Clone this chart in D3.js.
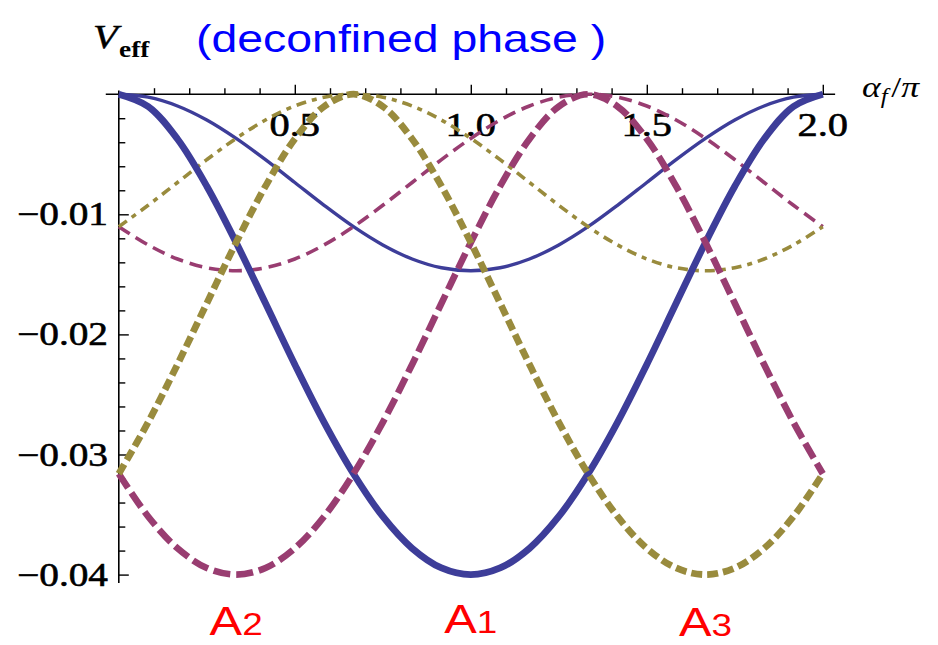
<!DOCTYPE html>
<html>
<head>
<meta charset="utf-8">
<script src="https://cdn.jsdelivr.net/npm/d3@7/dist/d3.min.js"></script>
<style>
  html, body { margin: 0; padding: 0; background: #fff; }
  svg { display: block; }
</style>
</head>
<body>
<svg id="chart" width="938" height="645"></svg>
<script>
// Sample points of α_f/π (step 1/12)
const alphaGrid = [0, 0.0833, 0.1667, 0.25, 0.3333, 0.4167, 0.5, 0.5833, 0.6667, 0.75, 0.8333, 0.9167,
  1, 1.0833, 1.1667, 1.25, 1.3333, 1.4167, 1.5, 1.5833, 1.6667, 1.75, 1.8333, 1.9167, 2];

// Thick curves (A1, A2, A3)
const thickA1 = [0, -0.00102, -0.00373, -0.00766, -0.01235, -0.01741, -0.0225, -0.02732, -0.0316, -0.03516,
  -0.03781, -0.03945, -0.04, -0.03945, -0.03781, -0.03516, -0.0316, -0.02732, -0.0225, -0.01741,
  -0.01235, -0.00766, -0.00373, -0.00102, 0];
const thickA2 = [-0.0316, -0.03516, -0.03781, -0.03945, -0.04, -0.03945, -0.03781, -0.03516, -0.0316,
  -0.02732, -0.0225, -0.01741, -0.01235, -0.00766, -0.00373, -0.00102, 0, -0.00102, -0.00373,
  -0.00766, -0.01235, -0.01741, -0.0225, -0.02732, -0.0316];
const thickA3 = [-0.0316, -0.02732, -0.0225, -0.01741, -0.01235, -0.00766, -0.00373, -0.00102, 0,
  -0.00102, -0.00373, -0.00766, -0.01235, -0.01741, -0.0225, -0.02732, -0.0316, -0.03516, -0.03781,
  -0.03945, -0.04, -0.03945, -0.03781, -0.03516, -0.0316];

// Thin curves
const thinA1 = [0, -0.00025, -0.00098, -0.00215, -0.00368, -0.00545, -0.00735, -0.00925, -0.01103,
  -0.01255, -0.01372, -0.01445, -0.0147, -0.01445, -0.01372, -0.01255, -0.01103, -0.00925, -0.00735,
  -0.00545, -0.00368, -0.00215, -0.00098, -0.00025, 0];
const thinA2 = [-0.01103, -0.01255, -0.01372, -0.01445, -0.0147, -0.01445, -0.01372, -0.01255, -0.01103,
  -0.00925, -0.00735, -0.00545, -0.00368, -0.00215, -0.00098, -0.00025, 0, -0.00025, -0.00098,
  -0.00215, -0.00368, -0.00545, -0.00735, -0.00925, -0.01103];
const thinA3 = [-0.01103, -0.00925, -0.00735, -0.00545, -0.00368, -0.00215, -0.00098, -0.00025, 0,
  -0.00025, -0.00098, -0.00215, -0.00368, -0.00545, -0.00735, -0.00925, -0.01103, -0.01255, -0.01372,
  -0.01445, -0.0147, -0.01445, -0.01372, -0.01255, -0.01103];

// Axis ticks and labels
const xMajorTicks = [0.5, 1.0, 1.5, 2.0];
const xTickLabels = ["0.5", "1.0", "1.5", "2.0"];
const xMinorTicks = [0.1, 0.2, 0.3, 0.4, 0.6, 0.7, 0.8, 0.9, 1.1, 1.2, 1.3, 1.4, 1.6, 1.7, 1.8, 1.9];
const yMajorTicks = [-0.01, -0.02, -0.03, -0.04];
const yTickLabels = ["\u22120.01", "\u22120.02", "\u22120.03", "\u22120.04"];
const yMinorTicks = [-0.002, -0.004, -0.006, -0.008, -0.012, -0.014, -0.016, -0.018,
  -0.022, -0.024, -0.026, -0.028, -0.032, -0.034, -0.036, -0.038];

// Curve-name labels placed at each thick curve's minimum
const curveNames = ["A", "A", "A"];
const curveSubs = ["2", "1", "3"];
const curveNameAt = [1 / 3, 1, 5 / 3];

const COLORS = { blue: "#3d3d99", pink: "#993d71", olive: "#998b3d" };
const TEXT_STRETCH = 1.19;

const svg = d3.select("#chart");
const x = d3.scaleLinear().domain([0, 2]).range([118.8, 822.8]);
const y = d3.scaleLinear().domain([0, -0.04]).range([94.2, 574.6]);

const serif = "'Liberation Serif', 'Times New Roman', serif";
const sans = "'Liberation Sans', Arial, Helvetica, sans-serif";

// Text helper with horizontal stretch about its anchor
function label(g, px, py, txt, opts) {
  const t = g.append("text")
    .attr("transform", `translate(${px},${py}) scale(${TEXT_STRETCH},1)`)
    .attr("font-family", opts.family || serif)
    .attr("font-size", opts.size)
    .attr("fill", opts.fill || "#000")
    .attr("text-anchor", opts.anchor || "start");
  if (opts.italic) t.attr("font-style", "italic");
  if (opts.bold) t.attr("font-weight", "bold");
  if (opts.heavy) t.attr("stroke", opts.fill || "#000").attr("stroke-width", opts.heavy);
  t.text(txt);
  return t;
}

// Tick labels (drawn beneath the curves)
const labelsG = svg.append("g");
xMajorTicks.forEach((v, i) => label(labelsG, x(v), 136, xTickLabels[i], { size: 34, anchor: "middle", heavy: 0.6 }));
yMajorTicks.forEach((v, i) => label(labelsG, 108, y(v) + 11, yTickLabels[i], { size: 33, anchor: "end", heavy: 0.6 }));

// Axes
const axesG = svg.append("g").attr("stroke", "#000");
axesG.append("line")
  .attr("x1", x(-0.037)).attr("x2", x(2.035))
  .attr("y1", y(0)).attr("y2", y(0)).attr("stroke-width", 1.6);
axesG.append("line")
  .attr("x1", x(0)).attr("x2", x(0))
  .attr("y1", y(0.0003)).attr("y2", y(-0.0407)).attr("stroke-width", 1.6);

function styleAxis(g) {
  g.select(".domain").remove();
  g.selectAll(".tick line").attr("stroke", "#000").attr("stroke-width", 1.4);
}
svg.append("g").attr("transform", `translate(0,${y(0)})`)
  .call(d3.axisTop(x).tickValues(xMinorTicks).tickSize(6).tickFormat(""))
  .call(styleAxis);
svg.append("g").attr("transform", `translate(0,${y(0)})`)
  .call(d3.axisTop(x).tickValues(xMajorTicks).tickSize(9.5).tickFormat(""))
  .call(styleAxis);
svg.append("g").attr("transform", `translate(${x(0)},0)`)
  .call(d3.axisRight(y).tickValues(yMinorTicks).tickSize(6.5).tickFormat(""))
  .call(styleAxis);
svg.append("g").attr("transform", `translate(${x(0)},0)`)
  .call(d3.axisRight(y).tickValues(yMajorTicks).tickSize(10).tickFormat(""))
  .call(styleAxis);

// Curves
const line = d3.line()
  .x(d => x(d[0]))
  .y(d => y(d[1]))
  .curve(d3.curveCatmullRom.alpha(0.5));

const series = [
  { values: thinA1, color: COLORS.blue, width: 3.4, dash: null },
  { values: thinA2, color: COLORS.pink, width: 3.6, dash: "13,7" },
  { values: thinA3, color: COLORS.olive, width: 3.6, dash: "10,6,5,6" },
  { values: thickA1, color: COLORS.blue, width: 6.8, dash: null },
  { values: thickA2, color: COLORS.pink, width: 6.6, dash: "17,6" },
  { values: thickA3, color: COLORS.olive, width: 6.8, dash: "11,5" }
];

const curvesG = svg.append("g").attr("fill", "none");
series.forEach(s => {
  curvesG.append("path")
    .datum(alphaGrid.map((a, i) => [a, s.values[i]]))
    .attr("d", line)
    .attr("stroke", s.color)
    .attr("stroke-width", s.width)
    .attr("stroke-dasharray", s.dash)
    .attr("stroke-linecap", "butt")
    .attr("stroke-linejoin", "round");
});

// Axis titles
const titleG = svg.append("g");
label(titleG, 93, 48, "V", { size: 34, italic: true, heavy: 0.5 });
label(titleG, 119, 57, "eff", { size: 23, bold: true });

const at = titleG.append("text")
  .attr("transform", `translate(862,97) scale(${TEXT_STRETCH},1)`)
  .attr("font-family", serif)
  .attr("font-size", 30)
  .attr("font-style", "italic");
at.append("tspan").text("\u03b1");
at.append("tspan").attr("font-size", 21).attr("dy", 6).text("f");
at.append("tspan").attr("dy", -6).attr("dx", 3).attr("font-style", "normal").text("/");
at.append("tspan").text("\u03c0");

// Chart heading
label(titleG, 196, 52, "(deconfined phase )", { size: 39, family: sans, fill: "#0000ff" });

// Curve names
curveNameAt.forEach((a, i) => {
  const baseY = [635, 633, 636][i];
  const t = titleG.append("text")
    .attr("transform", `translate(${x(a)},${baseY}) scale(${TEXT_STRETCH},1)`)
    .attr("font-family", sans)
    .attr("font-size", 41)
    .attr("fill", "#ff0000")
    .attr("text-anchor", "middle");
  t.append("tspan").text(curveNames[i]);
  t.append("tspan").attr("font-size", 31).text(curveSubs[i]);
});
</script>
</body>
</html>
